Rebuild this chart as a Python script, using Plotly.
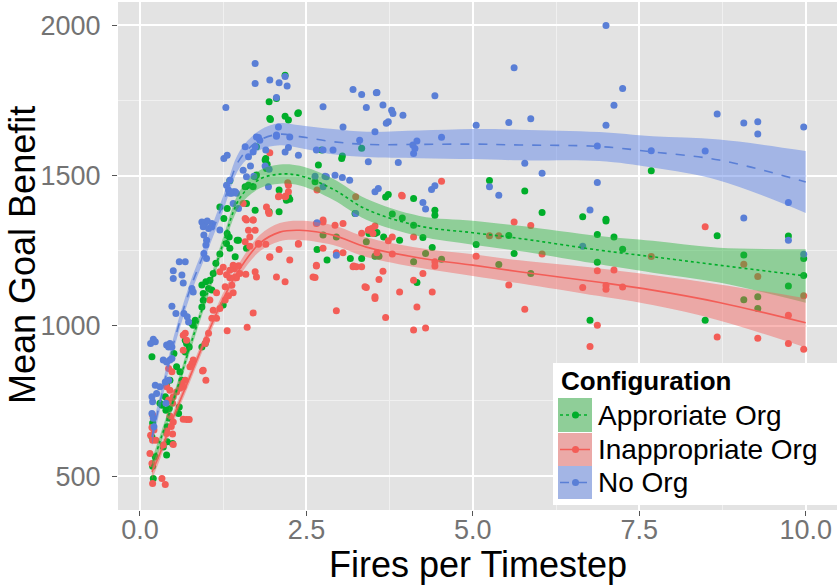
import plotly.graph_objects as go

# ---------------- data ----------------
categories = ["Approriate Org", "Inappropriate Org", "No Org"]

appro_pts = [
    (0.18, 897), (0.51, 908), (0.68, 952), (0.70, 941), (0.78, 1008), (0.80, 1002), (0.83, 1019),
    (0.68, 913), (0.74, 930), (0.93, 930), (0.98, 941), (0.55, 864), (0.60, 847), (0.63, 819),
    (0.45, 819), (0.40, 802), (0.38, 764), (0.33, 736), (0.30, 742), (0.39, 719), (0.59, 730),
    (0.58, 708), (0.44, 725), (0.45, 692), (0.41, 664), (0.18, 630), (0.19, 677), (0.40, 570),
    (0.23, 564), (0.19, 533), (0.20, 492), (0.35, 597), (0.41, 614), (0.49, 608), (0.95, 1085),
    (0.93, 1063), (1.25, 1069), (1.35, 1483), (1.31, 1391), (1.26, 1357), (1.31, 1307), (1.34, 1296),
    (1.30, 1274), (1.35, 1258), (1.46, 1285), (1.20, 1239), (1.14, 1208), (1.10, 1174), (0.93, 1136),
    (0.99, 1147), (1.05, 1152), (1.03, 1124), (1.08, 1119), (0.95, 1108), (2.05, 1757), (1.95, 1690),
    (2.37, 1707), (1.75, 1596), (1.88, 1552), (1.90, 1524), (1.75, 1502), (1.48, 1285), (1.60, 1258),
    (1.43, 1230), (1.20, 1396), (1.60, 1407), (1.73, 1385), (2.20, 1418), (2.63, 1480), (3.23, 1374),
    (2.18, 1834), (1.94, 1746), (1.96, 1687), (2.18, 1698), (2.23, 1685), (2.38, 1709), (1.89, 1557),
    (1.91, 1538), (2.68, 1535), (2.73, 1585), (3.04, 1565), (3.03, 1557), (1.58, 1463), (1.63, 1468),
    (1.70, 1463), (1.73, 1496), (2.09, 1452), (2.23, 1430), (2.25, 1421), (2.09, 1380), (1.94, 1380),
    (2.66, 1254), (2.75, 1302), (2.95, 1296), (3.16, 1224), (2.81, 1219), (3.79, 1372), (3.94, 1359),
    (4.11, 1335), (4.43, 1385), (4.43, 1368), (3.44, 1307), (3.53, 1307), (3.56, 1311), (3.66, 1296),
    (3.90, 1285), (4.25, 1294), (4.39, 1261), (5.05, 1271), (3.40, 1280), (3.33, 1224), (4.11, 1213),
    (4.29, 1241), (4.53, 1222), (3.53, 1232), (3.59, 1232), (4.16, 1144), (5.39, 1204), (3.33, 1591),
    (3.69, 1429), (3.73, 1437), (4.11, 1424), (5.25, 1484), (7.68, 1516), (5.78, 1449), (6.04, 1377),
    (6.65, 1363), (7.00, 1355), (7.00, 1349), (5.54, 1301), (6.87, 1304), (7.12, 1296), (8.67, 1300),
    (9.74, 1299), (5.62, 1241), (7.25, 1255), (6.87, 1212), (9.07, 1236), (9.97, 1224), (9.97, 1168),
    (9.74, 1133), (5.87, 1174), (9.07, 1087), (9.28, 1097), (9.28, 1058), (6.76, 1019), (8.49, 1019),
]

inapp_pts = [
    (1.05, 1086), (1.10, 1052), (1.08, 1025), (1.15, 1025), (1.20, 1058), (1.28, 1086), (1.31, 984),
    (1.03, 975), (1.00, 952), (0.98, 941), (0.68, 975), (0.70, 952), (0.65, 919), (0.80, 886),
    (0.78, 875), (0.75, 864), (0.95, 852), (0.99, 819), (0.43, 858), (0.48, 847), (0.68, 819),
    (0.63, 808), (0.65, 797), (0.60, 792), (0.40, 797), (0.45, 786), (0.55, 780), (0.50, 764),
    (0.43, 753), (0.49, 742), (0.65, 689), (0.70, 688), (0.74, 688), (0.45, 700), (0.50, 680),
    (0.47, 665), (0.40, 650), (0.49, 640), (0.19, 703), (0.18, 662), (0.21, 653), (0.16, 636),
    (0.19, 619), (0.24, 619), (0.50, 605), (0.35, 603), (0.40, 642), (0.19, 475), (0.33, 492),
    (0.38, 472), (0.15, 575), (0.18, 542), (0.94, 850), (0.65, 969), (1.20, 1180), (1.25, 1195),
    (1.30, 1170), (1.35, 1160), (1.28, 1130), (1.38, 1135), (1.45, 1160), (1.40, 1110), (1.42, 1190),
    (1.33, 1100), (1.15, 1110), (1.48, 1200), (1.55, 1407), (1.60, 1352), (1.63, 1318), (1.70, 1352),
    (1.73, 1318), (1.65, 1296), (1.58, 1280), (1.90, 1396), (1.93, 1380), (2.08, 1430), (2.19, 1432),
    (2.23, 1446), (2.22, 1476), (1.65, 1265), (1.78, 1274), (1.40, 1202), (1.35, 1185), (1.43, 1163),
    (1.50, 1174), (1.75, 1163), (1.95, 1230), (2.05, 1163), (2.25, 1219), (2.38, 1274), (2.65, 1341),
    (2.75, 1346), (2.93, 1335), (3.43, 1318), (3.48, 1324), (3.50, 1307), (3.38, 1130), (3.53, 1097),
    (3.93, 1435), (4.11, 1152), (3.20, 1197), (3.25, 1197), (2.65, 1202), (2.60, 1163), (1.58, 1357),
    (1.70, 1352), (2.75, 1352), (3.05, 1341), (2.38, 1272), (2.75, 1258), (2.95, 1243), (3.05, 1243),
    (2.09, 1254), (1.89, 1272), (1.78, 1272), (1.95, 1228), (2.65, 1199), (3.21, 1199), (2.63, 1161),
    (2.18, 1147), (1.73, 1180), (1.59, 1172), (2.95, 1050), (1.70, 1043), (1.61, 995), (1.95, 1576),
    (2.09, 1432), (2.18, 1430), (1.94, 1374), (2.66, 1452), (3.24, 1430), (2.23, 1468), (3.33, 1308),
    (3.44, 1321), (3.53, 1332), (3.73, 1283), (3.79, 1296), (3.33, 1197), (3.56, 1243), (3.79, 1239),
    (4.11, 1296), (3.65, 1182), (3.59, 1154), (3.40, 1128), (3.53, 1091), (3.90, 1113), (4.16, 1063),
    (3.69, 1028), (4.11, 986), (4.29, 993), (3.94, 1432), (4.53, 1481), (4.25, 1174), (4.43, 1213),
    (4.43, 1199), (4.39, 1113), (5.05, 1232), (5.25, 1300), (5.39, 1300), (5.62, 1346), (5.87, 1334),
    (8.49, 1330), (5.54, 1136), (6.65, 1128), (6.87, 1183), (7.12, 1186), (7.00, 1134), (7.00, 1122),
    (7.25, 1129), (5.78, 1055), (6.87, 1002), (6.76, 931), (8.67, 963), (9.28, 959), (9.74, 1035),
    (9.74, 941), (9.97, 922), (9.97, 1100), (6.04, 1239), (7.68, 1231), (9.07, 1205), (9.28, 1164),
]

noorg_pts = [
    (0.48, 1065), (0.54, 1041), (0.66, 1041), (0.71, 1030), (0.73, 1013), (0.20, 955), (0.16, 941),
    (0.23, 947), (0.40, 936), (0.45, 941), (0.48, 930), (0.43, 930), (0.35, 886), (0.40, 880),
    (0.45, 886), (0.48, 891), (0.23, 802), (0.18, 764), (0.25, 775), (0.19, 747), (0.38, 813),
    (0.43, 819), (0.39, 742), (0.30, 797), (0.18, 708), (0.20, 692), (0.21, 664), (1.29, 1727),
    (1.26, 1557), (1.31, 1568), (1.35, 1485), (1.30, 1468), (1.33, 1452), (1.48, 1391), (0.93, 1346),
    (0.98, 1343), (1.01, 1349), (1.08, 1341), (0.95, 1330), (1.03, 1324), (1.08, 1330), (1.20, 1319),
    (0.96, 1302), (1.00, 1285), (0.99, 1269), (0.96, 1241), (1.00, 1224), (0.59, 1213), (0.68, 1213),
    (0.50, 1183), (0.63, 1169), (0.50, 1158), (0.65, 1143), (0.78, 1124), (0.80, 1113), (1.38, 1441),
    (1.43, 1446), (1.58, 1596), (1.63, 1563), (1.70, 1579), (1.73, 1596), (1.75, 1629), (1.80, 1618),
    (1.73, 1873), (1.73, 1807), (1.95, 1818), (2.09, 1809), (2.21, 1798), (2.18, 1830), (2.05, 1635),
    (2.18, 1579), (2.25, 1629), (2.38, 1568), (2.75, 1729), (3.05, 1662), (3.30, 1618), (3.53, 1646),
    (3.20, 1787), (3.33, 1770), (3.40, 1727), (3.55, 1776), (3.65, 1735), (3.78, 1718), (3.80, 1707),
    (3.95, 1701), (3.70, 1674), (3.73, 1679), (3.43, 1546), (3.88, 1544), (3.53, 1446), (3.58, 1457),
    (4.10, 1602), (4.13, 1590), (4.11, 1574), (4.16, 1615), (2.65, 1585), (2.75, 1585), (2.90, 1585),
    (2.78, 1498), (2.93, 1501), (2.63, 1498), (3.15, 1485), (2.95, 1235), (2.66, 1343), (3.24, 1374),
    (1.35, 1441), (1.40, 1446), (1.45, 1441), (1.40, 1407), (1.55, 1518), (1.60, 1496), (1.71, 1498),
    (1.66, 1532), (1.94, 1521), (1.88, 1532), (1.93, 1463), (1.89, 1585), (1.78, 1627), (2.05, 1631),
    (2.23, 1594), (2.08, 1662), (2.05, 1760), (2.80, 1496), (3.04, 1494), (2.75, 1463), (3.56, 1777),
    (4.43, 1766), (4.53, 1628), (4.38, 1454), (4.43, 1466), (4.25, 1411), (4.29, 1389), (5.05, 1668),
    (5.25, 1463), (5.39, 1435), (5.62, 1859), (7.00, 2000), (7.25, 1790), (7.12, 1734), (7.00, 1668),
    (5.54, 1677), (5.87, 1689), (8.67, 1705), (9.07, 1675), (9.28, 1679), (9.28, 1639), (9.97, 1662),
    (6.87, 1599), (7.68, 1583), (8.49, 1582), (5.78, 1541), (6.04, 1508), (6.87, 1477), (6.76, 1386),
    (9.74, 1411), (9.07, 1359), (6.65, 1265), (9.74, 1285), (9.97, 1238),
]

# smoothed fits (loess) and half-widths of their confidence bands
smooth_x = [0.18, 0.3, 0.5, 0.75, 1.0, 1.25, 1.5, 1.8, 2.1, 2.4, 2.9, 3.4, 4.2, 5.0, 5.7, 6.9, 7.7, 8.7, 10.0]
appro_fit = [531, 615, 750, 930, 1100, 1275, 1425, 1488, 1505, 1500, 1455, 1388, 1332, 1310, 1291, 1252, 1230, 1202, 1166]
appro_se = [25, 20, 18, 18, 18, 20, 25, 30, 32, 33, 35, 35, 34, 40, 42, 47, 53, 58, 89]
inapp_fit = [514, 575, 695, 830, 965, 1090, 1190, 1275, 1312, 1318, 1302, 1262, 1226, 1202, 1180, 1145, 1119, 1078, 1010]
inapp_se = [25, 20, 18, 18, 18, 20, 22, 27, 30, 32, 33, 33, 33, 36, 38, 46, 50, 60, 82]
noorg_fit = [630, 745, 937, 1120, 1263, 1408, 1555, 1618, 1638, 1630, 1613, 1604, 1604, 1605, 1602, 1597, 1579, 1552, 1479]
noorg_se = [30, 25, 22, 22, 22, 24, 28, 33, 37, 38, 42, 42, 46, 50, 51, 48, 52, 68, 103]

x_tickvals = [0, 2.5, 5, 7.5, 10]
x_ticktext = ["0.0", "2.5", "5.0", "7.5", "10.0"]
y_tickvals = [500, 1000, 1500, 2000]
y_ticktext = ["500", "1000", "1500", "2000"]

# ---------------- styles ----------------
point_col = {"Approriate Org": "#00AE2A", "Inappropriate Org": "#F35D57", "No Org": "#5A7FD6"}
band_col = {"Approriate Org": "rgba(40,180,60,0.45)", "Inappropriate Org": "rgba(245,95,90,0.45)",
            "No Org": "rgba(85,125,230,0.45)"}
key_col = {"Approriate Org": "#8FCE98", "Inappropriate Org": "#EBA9A7", "No Org": "#A3B5E5"}
dash = {"Approriate Org": "dot", "Inappropriate Org": "solid", "No Org": "dash"}

series = {
    "Approriate Org": (appro_pts, appro_fit, appro_se),
    "Inappropriate Org": (inapp_pts, inapp_fit, inapp_se),
    "No Org": (noorg_pts, noorg_fit, noorg_se),
}

FONT = "Liberation Sans, Arial, Helvetica, sans-serif"
fig = go.Figure()

# points first
for name in categories:
    pts = series[name][0]
    fig.add_trace(go.Scatter(
        x=[p[0] for p in pts], y=[p[1] for p in pts], mode="markers",
        marker=dict(size=7, color=point_col[name], line=dict(width=0)),
        showlegend=False, hoverinfo="skip"))

# ribbons and fitted lines
for name in categories:
    _, fit, se = series[name]
    lo = [f - s for f, s in zip(fit, se)]
    hi = [f + s for f, s in zip(fit, se)]
    fig.add_trace(go.Scatter(x=smooth_x, y=lo, mode="lines", line=dict(width=0, shape="spline"),
                             showlegend=False, hoverinfo="skip"))
    fig.add_trace(go.Scatter(x=smooth_x, y=hi, mode="lines", line=dict(width=0, shape="spline"),
                             fill="tonexty", fillcolor=band_col[name], showlegend=False, hoverinfo="skip"))
    fig.add_trace(go.Scatter(x=smooth_x, y=fit, mode="lines",
                             line=dict(width=1.6, color=point_col[name], dash=dash[name], shape="spline"),
                             showlegend=False, hoverinfo="skip"))

# ---------------- layout ----------------
W, H = 837, 586
ML, MR, MT, MB = 118, 0, 2, 76
PW, PH = W - ML - MR, H - MT - MB


def px(xp):
    return (xp - ML) / PW


def py(yp):
    return (H - MB - yp) / PH


fig.update_layout(
    width=W, height=H, margin=dict(l=ML, r=MR, t=MT, b=MB),
    paper_bgcolor="white", plot_bgcolor="#E3E3E3",
    font=dict(family=FONT),
    xaxis=dict(range=[-0.33, 10.47], tickvals=x_tickvals, ticktext=x_ticktext,
               showgrid=True, gridcolor="white", gridwidth=1.6, zeroline=False,
               ticks="outside", ticklen=5, tickwidth=1, tickcolor="#555555",
               tickfont=dict(size=27, color="#737373", family=FONT), ticklabelstandoff=-9,
               minor=dict(tickvals=[1.25, 3.75, 6.25, 8.75], showgrid=True, gridcolor="#F0F0F0",
                          gridwidth=0.8, ticklen=0),
               showline=False, fixedrange=True),
    yaxis=dict(range=[387, 2078], tickvals=y_tickvals, ticktext=y_ticktext,
               showgrid=True, gridcolor="white", gridwidth=1.6, zeroline=False,
               ticks="outside", ticklen=5, tickwidth=1, tickcolor="#555555",
               tickfont=dict(size=27, color="#737373", family=FONT), ticklabelstandoff=6,
               minor=dict(tickvals=[750, 1250, 1750], showgrid=True, gridcolor="#F0F0F0",
                          gridwidth=0.8, ticklen=0),
               showline=False, fixedrange=True),
    showlegend=False,
)

annotations = [
    dict(text="Fires per Timestep", xref="paper", yref="paper", x=px(478), y=py(564),
         xanchor="center", yanchor="middle", showarrow=False, font=dict(size=36, color="black", family=FONT)),
    dict(text="Mean Goal Benefit", xref="paper", yref="paper", x=px(22), y=py(255),
         xanchor="center", yanchor="middle", textangle=-90, showarrow=False,
         font=dict(size=36, color="black", family=FONT)),
]

# manual ggplot-style legend
shapes = [dict(type="rect", xref="paper", yref="paper", x0=px(553), x1=px(837), y0=py(505), y1=py(363),
               fillcolor="white", line=dict(width=0), layer="above")]
annotations.append(dict(text="<b>Configuration</b>", xref="paper", yref="paper", x=px(559), y=py(381),
                        xanchor="left", yanchor="middle", showarrow=False,
                        font=dict(size=26, color="black", family=FONT)))
rows = [(398, 432), (433, 466), (466, 499)]
for name, (r0, r1) in zip(categories, rows):
    cy = (r0 + r1) / 2
    shapes.append(dict(type="rect", xref="paper", yref="paper", x0=px(558), x1=px(592), y0=py(r1), y1=py(r0),
                       fillcolor=key_col[name], line=dict(width=0), layer="above"))
    shapes.append(dict(type="line", xref="paper", yref="paper", x0=px(560), x1=px(590), y0=py(cy), y1=py(cy),
                       line=dict(color=point_col[name], width=1.5, dash=dash[name]), layer="above"))
    shapes.append(dict(type="circle", xref="paper", yref="paper", x0=px(572), x1=px(579),
                       y0=py(cy + 3.5), y1=py(cy - 3.5), fillcolor=point_col[name],
                       line=dict(width=0), layer="above"))
    annotations.append(dict(text=name, xref="paper", yref="paper", x=px(596), y=py(cy),
                            xanchor="left", yanchor="middle", showarrow=False,
                            font=dict(size=28, color="black", family=FONT)))

fig.update_layout(shapes=shapes, annotations=annotations)
fig.write_html("out.html", config={"displayModeBar": False})
